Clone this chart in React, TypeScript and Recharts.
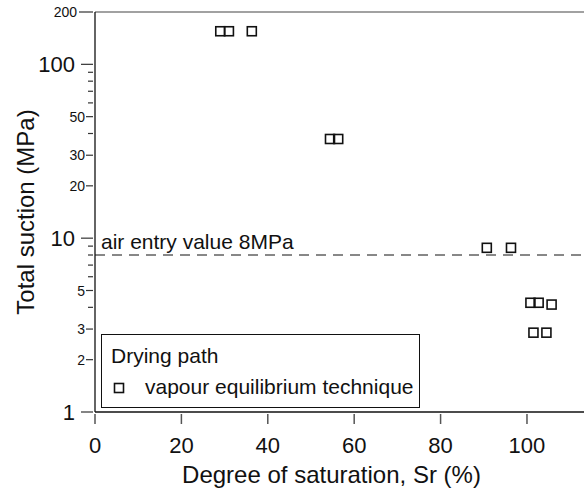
import React from "react";
import {
  ScatterChart,
  Scatter,
  XAxis,
  YAxis,
  ReferenceLine,
  Label,
} from "recharts";

// degree of saturation (%) and total suction (MPa)
const saturation = [29, 31, 36.3, 54.4, 56.3, 90.7, 96.3, 100.8, 102.7, 105.7, 101.5, 104.5];
const suction = [155, 155, 155, 37.2, 37.2, 8.8, 8.8, 4.25, 4.25, 4.15, 2.86, 2.86];

const xTicks = [0, 20, 40, 60, 80, 100];
const yTicks = [1, 2, 3, 4, 5, 6, 7, 8, 9, 10, 20, 30, 40, 50, 60, 70, 80, 90, 100, 200];
const yMajor = [1, 10, 100];
const yLabelled = [2, 3, 5, 20, 30, 50, 200];

const AIR_ENTRY = 8;
const FONT = "'Liberation Sans', Arial, sans-serif";
const INK = "#111";

const data = saturation.map((sr, i) => ({ sr, s: suction[i] }));

function Square({ cx, cy }: any) {
  if (cx == null || cy == null) return null;
  return (
    <rect x={cx - 4.5} y={cy - 4.5} width={9} height={9} fill="none" stroke={INK} strokeWidth={1.6} />
  );
}

function XTick({ x, y, payload }: any) {
  return (
    <g>
      <line x1={x} y1={y} x2={x} y2={y + 10} stroke="#555" strokeWidth={1.5} />
      <text x={x} y={y + 39} textAnchor="middle" fontSize={22} fontFamily={FONT} fill={INK}>
        {payload.value}
      </text>
    </g>
  );
}

function YTick({ x, y, payload }: any) {
  const v = payload.value;
  const major = yMajor.includes(v);
  const labelled = yLabelled.includes(v);
  const len = major ? 12 : v === 200 ? 14 : labelled ? 7 : 5;
  const fs = major ? 22 : 14;
  return (
    <g>
      <line x1={x - len} y1={y} x2={x} y2={y} stroke="#333" strokeWidth={1.2} />
      {(major || labelled) && (
        <text
          x={x - (major ? 18 : v === 200 ? 16 : 8)}
          y={y + fs * 0.36}
          textAnchor="end"
          fontSize={fs}
          fontFamily={FONT}
          fill={INK}
        >
          {v}
        </text>
      )}
    </g>
  );
}

export default function App() {
  return (
    <div style={{ position: "absolute", left: 0, top: 0, width: 584, height: 493, background: "#fff" }}>
      <ScatterChart width={584} height={493} margin={{ top: 12, right: 0, bottom: 0, left: 0 }}>
        <XAxis
          type="number"
          dataKey="sr"
          domain={[0, 113.2]}
          ticks={xTicks}
          interval={0}
          allowDataOverflow
          height={81}
          tickSize={0}
          tickLine={false}
          axisLine={{ stroke: INK, strokeWidth: 1.3 }}
          tick={<XTick />}
        >
          <Label
            content={({ viewBox }: any) => (
              <text
                x={viewBox.x + viewBox.width / 2 - 8}
                y={viewBox.y + viewBox.height - 10}
                textAnchor="middle"
                fontSize={24}
                fontFamily={FONT}
                fill={INK}
              >
                Degree of saturation, Sr (%)
              </text>
            )}
          />
        </XAxis>
        <YAxis
          type="number"
          dataKey="s"
          scale="log"
          domain={[1, 200]}
          ticks={yTicks}
          interval={0}
          allowDataOverflow
          width={95}
          tickSize={0}
          tickLine={false}
          axisLine={{ stroke: INK, strokeWidth: 1.3 }}
          tick={<YTick />}
        >
          <Label
            content={({ viewBox }: any) => {
              const cx = viewBox.x + 34;
              const cy = viewBox.y + viewBox.height / 2;
              return (
                <text
                  x={cx}
                  y={cy}
                  transform={`rotate(-90, ${cx}, ${cy})`}
                  textAnchor="middle"
                  fontSize={24}
                  fontFamily={FONT}
                  fill={INK}
                >
                  Total suction (MPa)
                </text>
              );
            }}
          />
        </YAxis>
        <ReferenceLine y={200} stroke="#444" strokeWidth={1.2} />
        <ReferenceLine
          y={AIR_ENTRY}
          stroke={INK}
          strokeWidth={1}
          strokeDasharray="10 7"
          label={({ viewBox }: any) => (
            <text x={viewBox.x + 6} y={viewBox.y - 6} fontSize={21} fontFamily={FONT} fill={INK}>
              air entry value 8MPa
            </text>
          )}
        />
        <Scatter data={data} shape={<Square />} isAnimationActive={false} />
      </ScatterChart>
      <div
        style={{
          position: "absolute",
          left: 101,
          top: 334,
          width: 317,
          height: 72,
          border: `1px solid ${INK}`,
          background: "#fff",
          fontFamily: FONT,
          fontSize: 21,
          color: INK,
        }}
      >
        <div style={{ position: "absolute", left: 9, top: 9, whiteSpace: "nowrap", lineHeight: "24px" }}>
          Drying path
        </div>
        <svg style={{ position: "absolute", left: 10, top: 46 }} width={14} height={14}>
          <rect x={2.5} y={2.5} width={9} height={9} fill="none" stroke={INK} strokeWidth={1.6} />
        </svg>
        <div style={{ position: "absolute", left: 43, top: 40, whiteSpace: "nowrap", lineHeight: "24px" }}>
          vapour equilibrium technique
        </div>
      </div>
    </div>
  );
}
